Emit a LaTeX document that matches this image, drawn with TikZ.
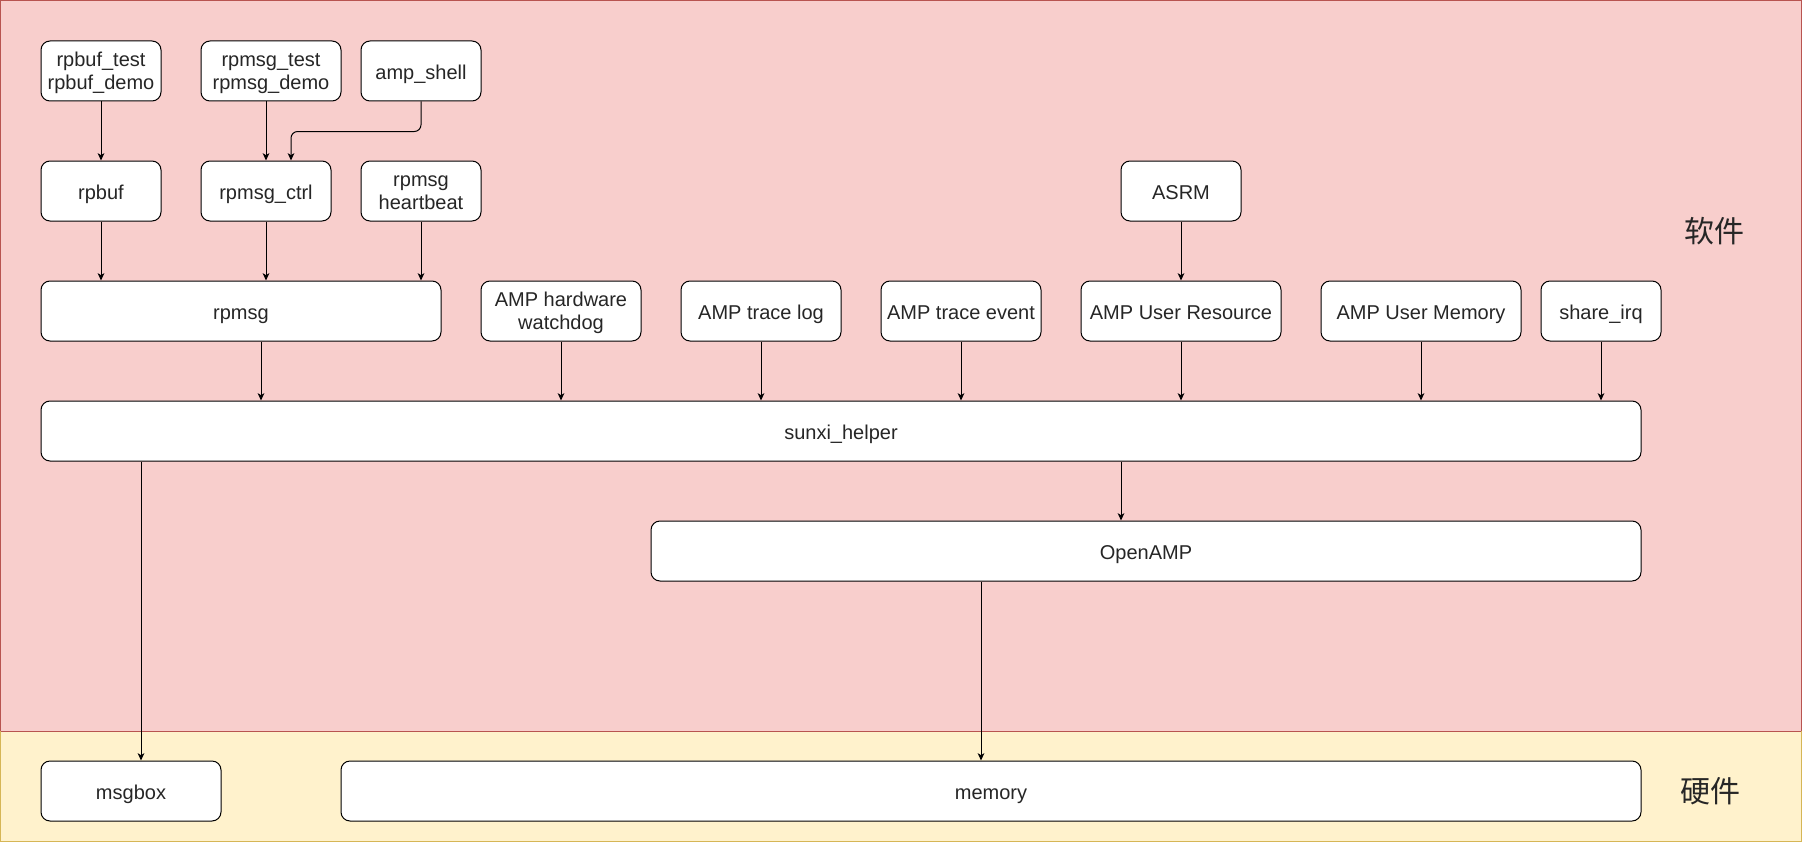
\documentclass[tikz,border=0pt]{standalone}
\usepackage{fontspec}
\setmainfont{Liberation Sans}
\newfontfamily\cjk{Noto Sans CJK SC}
\usetikzlibrary{arrows.meta}
\definecolor{swfill}{HTML}{F8CECC}
\definecolor{swline}{HTML}{B85450}
\definecolor{hwfill}{HTML}{FFF2CC}
\definecolor{hwline}{HTML}{D6B656}
\newcommand\firstlinestrut{\rule{0pt}{16pt}}
\tikzset{
  boxbase/.style={draw=black, fill=white, line width=0.75pt, rounded corners=6.75pt,
    minimum height=45pt, inner sep=0pt, align=center,
    font=\fontsize{15pt}{17pt}\selectfont, text=black!85},
  box/.style={boxbase, text height=16pt, text depth=3.5pt},
  boxtwo/.style={boxbase},
  arr/.style={draw=black, line width=0.75pt, -{Stealth[length=5.5pt,width=5pt,inset=1.5pt]}},
  lbl/.style={font=\cjk\fontsize{22.5pt}{26pt}\selectfont, text=black!85}
}
\begin{document}
\begin{tikzpicture}[x=0.75pt,y=-0.75pt]
\useasboundingbox (-1,-1) rectangle (1801,841);
% regions
\path[fill=swfill, draw=swline, line width=0.75pt] (0,0) rectangle (1800,730);
\path[fill=hwfill, draw=hwline, line width=0.75pt] (0,730) rectangle (1800,840);
\draw[swline, line width=0.75pt] (0,730) -- (1800,730);
\node[lbl] (sw) at (1713,230) {软件};
\node[lbl] (hw) at (1709,790) {硬件};
% nodes
\node[boxtwo, minimum width=90pt] (rpbuftest) at (100,70) {\firstlinestrut rpbuf\_test\\\strut rpbuf\_demo};
\node[boxtwo, minimum width=105pt] (rpmsgtest) at (270,70) {\firstlinestrut rpmsg\_test\\\strut rpmsg\_demo};
\node[box, minimum width=90pt] (ampshell) at (420,70) {amp\_shell};
\node[box, minimum width=90pt] (rpbuf) at (100,190) {rpbuf};
\node[box, minimum width=97.5pt] (rpmsgctrl) at (265,190) {rpmsg\_ctrl};
\node[boxtwo, minimum width=90pt] (heartbeat) at (420,190) {\firstlinestrut rpmsg\\\strut heartbeat};
\node[box, minimum width=90pt] (asrm) at (1180,190) {ASRM};
\node[box, minimum width=300pt] (rpmsg) at (240,310) {rpmsg};
\node[boxtwo, minimum width=120pt] (watchdog) at (560,310) {\firstlinestrut AMP hardware\\\strut watchdog};
\node[box, minimum width=120pt] (tracelog) at (760,310) {AMP trace log};
\node[box, minimum width=120pt] (traceevent) at (960,310) {AMP trace event};
\node[box, minimum width=150pt] (userres) at (1180,310) {AMP User Resource};
\node[box, minimum width=150pt] (usermem) at (1420,310) {AMP User Memory};
\node[box, minimum width=90pt] (shareirq) at (1600,310) {share\_irq};
\node[box, minimum width=1200pt] (sunxi) at (840,430) {sunxi\_helper};
\node[box, minimum width=742.5pt] (openamp) at (1145,550) {OpenAMP};
\node[box, minimum width=135pt] (msgbox) at (130,790) {msgbox};
\node[box, minimum width=975pt] (memory) at (990,790) {memory};
% helper x positions
\coordinate (xa) at (260,0);
\coordinate (xb) at (1120,0);
\coordinate (xc) at (140,0);
\coordinate (xd) at (980,0);
% connectors
\draw[arr] (rpbuftest.south) -- (rpbuf.north);
\draw[arr] (rpmsgtest.south -| rpmsgctrl.north) -- (rpmsgctrl.north);
\draw[arr, rounded corners=5pt] (ampshell.south) -- ++(0,30) -| ([xshift=18.75pt]rpmsgctrl.north);
\draw[arr] (rpbuf.south) -- (rpbuf.south |- rpmsg.north);
\draw[arr] (rpmsgctrl.south) -- (rpmsgctrl.south |- rpmsg.north);
\draw[arr] (heartbeat.south) -- (heartbeat.south |- rpmsg.north);
\draw[arr] (asrm.south) -- (userres.north);
\draw[arr] (rpmsg.south -| xa) -- (sunxi.north -| xa);
\foreach \n in {watchdog,tracelog,traceevent,userres,usermem,shareirq}
  \draw[arr] (\n.south) -- (\n.south |- sunxi.north);
\draw[arr] (sunxi.south -| xb) -- (openamp.north -| xb);
\draw[arr] (sunxi.south -| xc) -- (msgbox.north -| xc);
\draw[arr] (openamp.south -| xd) -- (memory.north -| xd);
\end{tikzpicture}
\end{document}
